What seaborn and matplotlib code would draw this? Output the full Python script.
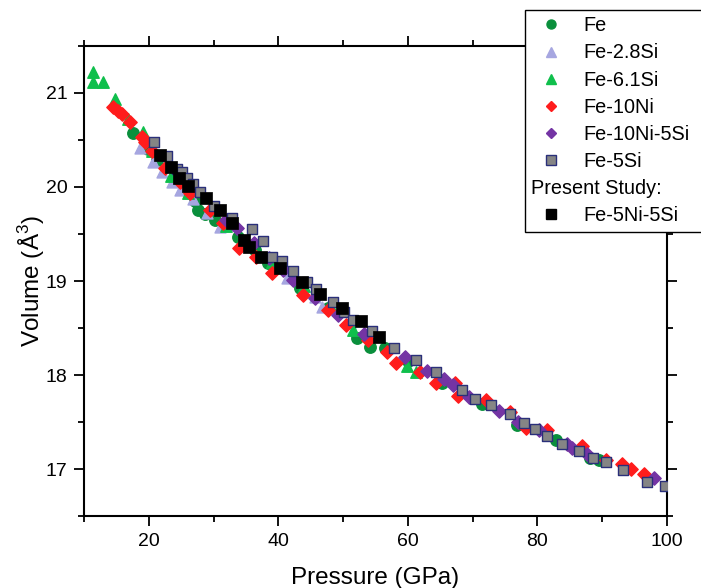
import matplotlib
matplotlib.use('Agg')
import matplotlib.pyplot as plt
import seaborn as sns
from matplotlib.ticker import MultipleLocator
from matplotlib.lines import Line2D

sns.set_style('ticks')
plt.rcParams['font.family'] = ['Liberation Sans', 'DejaVu Sans']
plt.rcParams['mathtext.fontset'] = 'custom'
plt.rcParams['mathtext.rm'] = 'Liberation Sans'
plt.rcParams['text.color'] = 'black'
plt.rcParams['axes.labelcolor'] = 'black'
plt.rcParams['xtick.color'] = 'black'
plt.rcParams['ytick.color'] = 'black'

# Fe
fe_p = [17.6, 19.9, 21.3, 27.1, 27.6, 28.7, 30.3, 33.7, 36.4, 38.4, 43.3, 47.6,
        52.1, 54.2, 56.4, 60.0, 65.3, 71.5, 76.9, 82.9, 88.1, 89.5]
fe_v = [20.57, 20.40, 20.29, 19.85, 19.76, 19.71, 19.65, 19.47, 19.33, 19.19, 18.93, 18.71,
        18.39, 18.30, 18.29, 18.15, 17.92, 17.69, 17.47, 17.31, 17.12, 17.10]

# Fe-2.8Si
si28_p = [18.6, 20.6, 22.0, 23.6, 24.8, 26.8, 29.0, 31.0, 34.5, 41.3, 45.6, 46.7, 51.0]
si28_v = [20.42, 20.27, 20.16, 20.05, 19.97, 19.87, 19.72, 19.57, 19.38, 19.03, 18.83, 18.72, 18.55]

# Fe-6.1Si
si61_p = [11.4, 11.4, 12.9, 14.8, 16.8, 19.1, 20.5, 23.5, 26.0, 32.0, 39.0, 44.0,
          48.0, 51.5, 59.8, 61.3]
si61_v = [21.22, 21.12, 21.12, 20.94, 20.72, 20.58, 20.38, 20.12, 19.94, 19.58, 19.20, 18.95,
          18.75, 18.48, 18.10, 18.03]

# Fe-10Ni
ni10_p = [14.5, 15.3, 15.8, 17.1, 18.9, 19.4, 20.5, 22.5, 24.8, 26.3, 29.4, 31.4, 34.0,
          36.6, 39.1, 43.8, 47.6, 50.5, 53.8, 56.7, 58.2, 61.8, 64.4, 67.2, 67.7, 72.0,
          75.7, 78.3, 81.4, 86.9, 90.6, 93.1, 94.5, 96.5]
ni10_v = [20.85, 20.81, 20.78, 20.69, 20.53, 20.48, 20.38, 20.20, 20.05, 19.94, 19.76, 19.62, 19.35,
          19.26, 19.09, 18.85, 18.69, 18.53, 18.37, 18.24, 18.13, 18.03, 17.92, 17.91, 17.78, 17.73,
          17.61, 17.44, 17.41, 17.24, 17.10, 17.05, 17.00, 16.95]

# Fe-10Ni-5Si
ni10si5_p = [32.0, 33.6, 36.2, 38.5, 40.7, 42.2, 45.6, 49.2, 53.3, 59.5, 62.9, 65.6, 66.9,
             69.5, 74.1, 77.0, 80.3, 84.5, 85.4, 87.7, 98.0]
ni10si5_v = [19.65, 19.56, 19.40, 19.24, 19.12, 19.01, 18.82, 18.64, 18.44, 18.19, 18.04, 17.96, 17.89,
             17.77, 17.62, 17.50, 17.41, 17.27, 17.22, 17.16, 16.90]

# Fe-5Si
si5_p = [20.8, 22.8, 24.3, 25.1, 25.9, 26.8, 27.9, 30.0, 32.8, 35.9, 37.6, 39.0, 40.5, 42.2,
         44.4, 45.8, 48.5, 50.2, 51.6, 54.5, 57.8, 61.3, 64.4, 68.4, 70.3, 72.9, 75.8, 78.0,
         79.7, 81.5, 83.8, 86.4, 88.6, 90.6, 93.2, 96.9, 99.7]
si5_v = [20.48, 20.33, 20.19, 20.16, 20.10, 20.03, 19.95, 19.80, 19.67, 19.55, 19.43, 19.26, 19.21, 19.11,
         18.99, 18.91, 18.78, 18.67, 18.59, 18.47, 18.29, 18.16, 18.03, 17.84, 17.75, 17.68, 17.58, 17.49,
         17.43, 17.35, 17.27, 17.19, 17.12, 17.07, 16.99, 16.86, 16.82]

# Present study: Fe-5Ni-5Si
study_p = [21.7, 23.4, 24.6, 26.0, 28.8, 31.0, 32.8, 34.7, 35.5, 37.4, 40.3, 43.6, 46.5, 49.8, 52.8, 55.6]
study_v = [20.34, 20.21, 20.10, 20.01, 19.88, 19.76, 19.62, 19.44, 19.36, 19.26, 19.14, 18.99, 18.86, 18.71,
           18.57, 18.40]

series = [
    ('Fe', fe_p, fe_v, 'o', '#0a8f3c', '#0a8f3c', 68),
    ('Fe-2.8Si', si28_p, si28_v, '^', '#a6a6e0', '#a6a6e0', 62),
    ('Fe-6.1Si', si61_p, si61_v, '^', '#0fbf4c', '#0fbf4c', 68),
    ('Fe-10Ni', ni10_p, ni10_v, 'D', '#ff1c1c', '#ff1c1c', 46),
    ('Fe-10Ni-5Si', ni10si5_p, ni10si5_v, 'D', '#7434a4', '#7434a4', 46),
    ('Fe-5Si', si5_p, si5_v, 's', '#858585', '#2a2f7a', 44),
]

fig = plt.figure(figsize=(7.01, 5.88), dpi=100)
ax = fig.add_axes([0.1198, 0.1224, 0.8317, 0.7994])

handles = []
labels = []
for name, px, vy, mk, fc, ec, sz in series:
    sns.scatterplot(x=px, y=vy, marker=mk, color=fc, edgecolor=ec, linewidth=1.0,
                    s=sz, ax=ax, zorder=3)
    handles.append(Line2D([], [], ls='none', marker=mk, markerfacecolor=fc,
                          markeredgecolor=ec, markersize=6.5 if mk != 'D' else 5.5))
    labels.append(name)

sns.scatterplot(x=study_p, y=study_v, marker='s', color='black', edgecolor='black',
                linewidth=0.5, s=80, ax=ax, zorder=4)

handles.append(Line2D([], [], ls='none', marker=None))
labels.append('Present Study:')
handles.append(Line2D([], [], ls='none', marker='s', markerfacecolor='black',
                      markeredgecolor='black', markersize=7))
labels.append('Fe-5Ni-5Si')

ax.set_xlim(10, 100)
ax.set_ylim(16.5, 21.5)
ax.xaxis.set_major_locator(MultipleLocator(20))
ax.xaxis.set_minor_locator(MultipleLocator(10))
ax.yaxis.set_major_locator(MultipleLocator(1))
ax.yaxis.set_minor_locator(MultipleLocator(0.5))

for sp in ax.spines.values():
    sp.set_visible(True)
    sp.set_color('black')
    sp.set_linewidth(1.5)

ax.tick_params(which='both', direction='out', top=True, right=True,
               labeltop=False, labelright=False, color='black', width=1.3)
ax.tick_params(which='major', length=7, labelsize=14, pad=5)
ax.tick_params(which='minor', length=4)

ax.set_xlabel('Pressure (GPa)', fontsize=17.5, labelpad=12.5)
ax.set_ylabel('Volume (Å$^{3}$)', fontsize=17.5, labelpad=-1)

# legend box runs past the right edge of the figure, as in the original
leg = fig.legend(handles, labels, loc='upper left', bbox_to_anchor=(0.749, 0.60, 0.265, 0.383),
                 bbox_transform=fig.transFigure, mode='expand', fontsize=14.3, frameon=True,
                 fancybox=False, edgecolor='black', framealpha=1, borderpad=0.32,
                 labelspacing=0.41, handlelength=2.0, handletextpad=0.6, borderaxespad=0)
leg.get_frame().set_linewidth(1.0)

# move the "Present Study:" header to the left edge of the legend
col = leg._legend_handle_box.get_children()[0]
row = col.get_children()[6]
row.get_children()[0].width = 0
row.sep = 0

fig.savefig('out.png', dpi=100)
